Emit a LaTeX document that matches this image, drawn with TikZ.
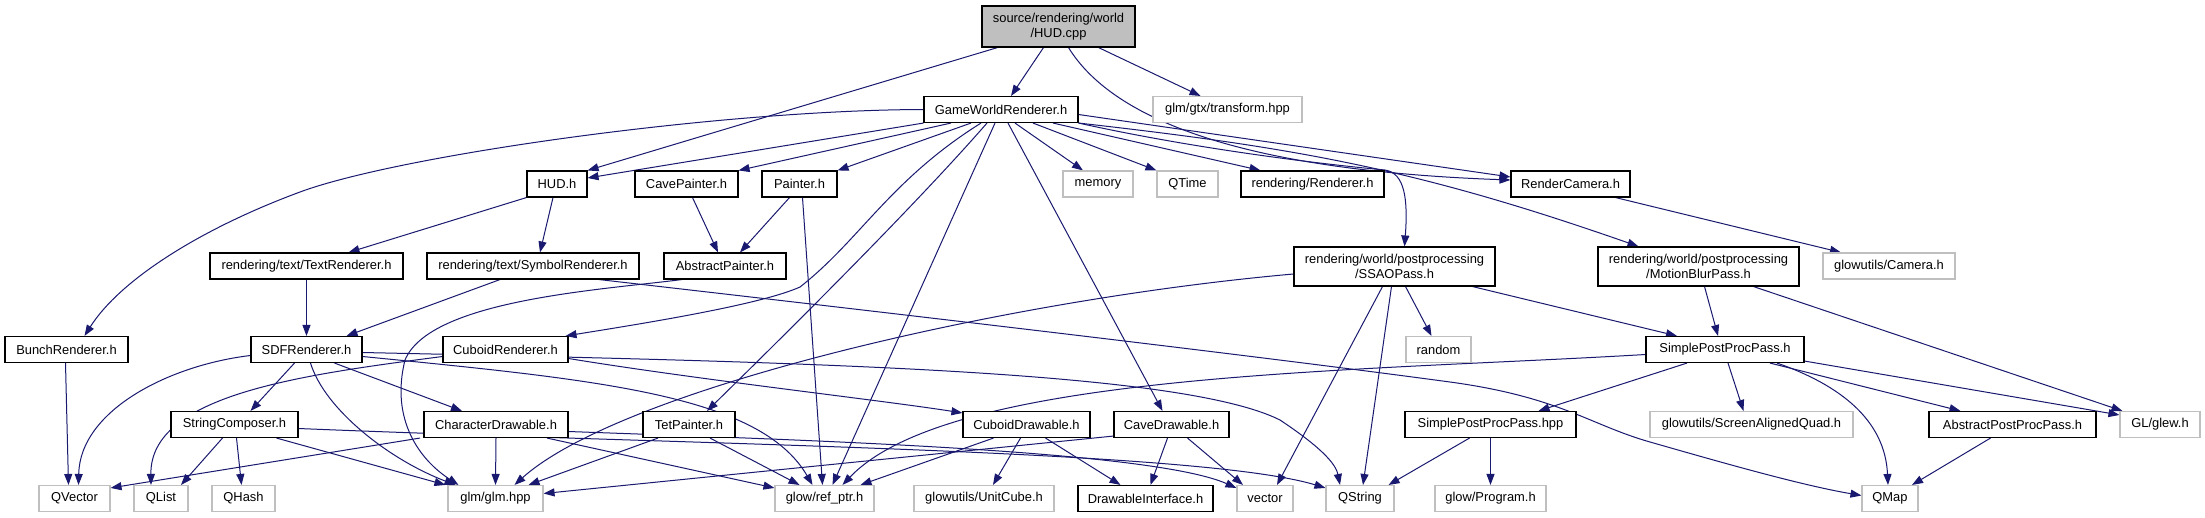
\documentclass[tikz,border=0pt]{standalone}
\usepackage{fontspec}
\setmainfont{Liberation Sans}
\usetikzlibrary{arrows.meta}
\definecolor{edgeblue}{HTML}{191970}
\definecolor{extgrey}{HTML}{BFBFBF}
\pgfdeclarelayer{edgelayer}
\pgfsetlayers{edgelayer,main}
\begin{document}
\begin{tikzpicture}[x=1pt,y=-1pt,
  box/.style={draw=black, line width=1.1pt, fill=white, inner sep=0pt,
    font=\fontsize{12.9}{14.5}\selectfont, minimum height=26pt, align=center},
  ext/.style={box, draw=extgrey},
  mainbox/.style={box, fill=extgrey, minimum height=41pt},
  twoline/.style={minimum height=39pt},
  edge/.style={draw=edgeblue, line width=1pt, -{Triangle[length=11pt,width=8pt]}}]
\begin{pgfonlayer}{edgelayer}
\fill[white] (0,0) rectangle (2205,517);
\end{pgfonlayer}
\useasboundingbox (0,0) rectangle (2205,517);
% row 0
\node[mainbox, minimum width=153pt] (hudcpp) at (1058.5,26.5) {source/rendering/world\\/HUD.cpp};
% row 1
\node[box, minimum width=154pt] (gwr) at (1001,109.5) {GameWorldRenderer.h};
\node[ext, minimum width=149pt] (transform) at (1227.5,109.5) {glm/gtx/transform.hpp};
% row 2
\node[box, minimum width=60pt] (hudh) at (557,184) {HUD.h};
\node[box, minimum width=103pt] (cavepainter) at (686.5,184) {CavePainter.h};
\node[box, minimum width=75pt] (painter) at (799.5,184) {Painter.h};
\node[ext, minimum width=70pt] (memory) at (1098,184) {memory};
\node[ext, minimum width=61pt] (qtime) at (1187.5,184) {QTime};
\node[box, minimum width=143pt] (renderer) at (1312.5,184) {rendering/Renderer.h};
\node[box, minimum width=119pt] (rendercamera) at (1570.5,184) {RenderCamera.h};
% row 3
\node[box, minimum width=193pt] (textrenderer) at (306.5,266) {rendering/text/TextRenderer.h};
\node[box, minimum width=212pt] (symbolrenderer) at (533,266) {rendering/text/SymbolRenderer.h};
\node[box, minimum width=122pt] (abstractpainter) at (725,266) {AbstractPainter.h};
\node[box, twoline, minimum width=201pt] (ssao) at (1394.5,266.5) {rendering/world/postprocessing\\/SSAOPass.h};
\node[box, twoline, minimum width=201pt] (motionblur) at (1698.5,266.5) {rendering/world/postprocessing\\/MotionBlurPass.h};
\node[ext, minimum width=132pt] (camera) at (1889,266) {glowutils/Camera.h};
% row 4
\node[box, minimum width=123pt] (bunch) at (66.5,349.5) {BunchRenderer.h};
\node[box, minimum width=111pt] (sdf) at (306.5,349.5) {SDFRenderer.h};
\node[box, minimum width=125pt] (cuboidrenderer) at (505.5,349.5) {CuboidRenderer.h};
\node[ext, minimum width=65pt] (random) at (1438.5,349.5) {random};
\node[box, minimum width=158pt] (spp) at (1725,349.5) {SimplePostProcPass.h};
% row 5
\node[box, minimum width=127pt] (stringcomposer) at (234.5,424.5) {StringComposer.h};
\node[box, minimum width=144pt] (chardrawable) at (496,424.5) {CharacterDrawable.h};
\node[box, minimum width=92pt] (tetpainter) at (689,424.5) {TetPainter.h};
\node[box, minimum width=127pt] (cuboiddrawable) at (1026.5,424.5) {CuboidDrawable.h};
\node[box, minimum width=115pt] (cavedrawable) at (1171.5,424.5) {CaveDrawable.h};
\node[box, minimum width=171pt] (spphpp) at (1490.5,424.5) {SimplePostProcPass.hpp};
\node[ext, minimum width=203pt] (saquad) at (1751.5,424.5) {glowutils/ScreenAlignedQuad.h};
\node[box, minimum width=167pt] (appass) at (2012.5,424.5) {AbstractPostProcPass.h};
\node[ext, minimum width=80pt] (glew) at (2160,424.5) {GL/glew.h};
% row 6
\node[ext, minimum width=71pt] (qvector) at (74.5,498.5) {QVector};
\node[ext, minimum width=54pt] (qlist) at (161,498.5) {QList};
\node[ext, minimum width=63pt] (qhash) at (243.5,498.5) {QHash};
\node[ext, minimum width=95pt] (glm) at (495.5,498.5) {glm/glm.hpp};
\node[ext, minimum width=99pt] (refptr) at (824.5,498.5) {glow/ref\_ptr.h};
\node[ext, minimum width=140pt] (unitcube) at (984,498.5) {glowutils/UnitCube.h};
\node[box, minimum width=135pt] (drawint) at (1145.5,498.5) {DrawableInterface.h};
\node[ext, minimum width=56pt] (vector) at (1265,498.5) {vector};
\node[ext, minimum width=68pt] (qstring) at (1360,498.5) {QString};
\node[ext, minimum width=111pt] (program) at (1490.5,498.5) {glow/Program.h};
\node[ext, minimum width=56pt] (qmap) at (1890,498.5) {QMap};

\begin{pgfonlayer}{edgelayer}
% ---- edges from HUD.cpp
\draw[edge] ([xshift=-61pt]hudcpp.south) -- (hudh.north east);
\draw[edge] ([xshift=-15pt]hudcpp.south) -- ([xshift=10pt]gwr.north);
\draw[edge] ([xshift=40pt]hudcpp.south) -- ([xshift=-27pt]transform.north);
\draw[edge] ([xshift=10pt]hudcpp.south) .. controls (1110,115) and (1230,170) .. ([yshift=4pt]rendercamera.west);
% ---- edges from GameWorldRenderer.h
\draw[edge] (gwr.south west) -- ([yshift=6pt]hudh.east);
\draw[edge] ([xshift=-50pt]gwr.south) -- (cavepainter.north east);
\draw[edge] ([xshift=-30pt]gwr.south) -- (painter.north east);
\draw[edge] ([xshift=-20pt]gwr.south) .. controls (890,180) and (860,240) .. (800,287)
  .. controls (760,305) and (640,324) .. ([xshift=-3pt]cuboidrenderer.north east);
\draw[edge] ([xshift=-14pt]gwr.south) .. controls (920,200) and (800,320) .. ([xshift=18pt]tetpainter.north);
\draw[edge] ([xshift=-6pt]gwr.south) -- ([xshift=8pt]refptr.north);
\draw[edge] ([xshift=7pt]gwr.south) -- ([xshift=-9pt]cavedrawable.north);
\draw[edge] ([xshift=14pt]gwr.south) -- ([xshift=-15pt]memory.north);
\draw[edge] ([xshift=32pt]gwr.south) -- (qtime.north west);
\draw[edge] ([xshift=52pt]gwr.south) -- ([xshift=-52pt]renderer.north);
\draw[edge] ([yshift=-5pt]gwr.east) -- ([yshift=7pt]rendercamera.west);
\draw[edge] (gwr.south east) .. controls (1200,150) and (1330,165) .. (1385,170)
  .. controls (1405,173) and (1408,200) .. ([xshift=10pt]ssao.north);
\draw[edge] (gwr.south east) .. controls (1300,148) and (1420,170) .. ([xshift=-60pt]motionblur.north);
\draw[edge] (gwr.west) .. controls (720,110) and (400,155) .. (300,192)
  .. controls (200,229) and (120,280) .. ([xshift=18pt]bunch.north);
% ---- HUD.h, painters
\draw[edge] (hudh.south west) -- ([xshift=42pt]textrenderer.north);
\draw[edge] ([xshift=-4pt]hudh.south) -- ([xshift=7pt]symbolrenderer.north);
\draw[edge] ([xshift=6pt]cavepainter.south) -- ([xshift=-7pt]abstractpainter.north);
\draw[edge] ([xshift=-10pt]painter.south) -- ([xshift=15pt]abstractpainter.north);
\draw[edge] ([xshift=3pt]painter.south) -- ([xshift=-2pt]refptr.north);
\draw[edge] ([xshift=-43pt]abstractpainter.south) .. controls (600,290) and (430,300) .. (405,360)
  .. controls (390,420) and (420,460) .. ([xshift=-37pt]glm.north);
% ---- text renderers
\draw[edge] (textrenderer.south) -- (sdf.north);
\draw[edge] ([xshift=-33pt]symbolrenderer.south) -- ([xshift=40pt]sdf.north);
\draw[edge] ([xshift=66pt]symbolrenderer.south) .. controls (900,314) and (1250,355) .. (1450,382)
  .. controls (1560,397) and (1590,425) .. (1650,442)
  .. controls (1720,462) and (1800,485) .. ([yshift=3pt]qmap.west);
% ---- SDFRenderer
\draw[edge] ([yshift=-6pt]sdf.west) .. controls (170,365) and (80,410) .. ([xshift=4pt]qvector.north);
\draw[edge] ([xshift=-12pt]sdf.south) -- ([xshift=16pt]stringcomposer.north);
\draw[edge] ([xshift=4pt]sdf.south) .. controls (325,410) and (390,460) .. ([xshift=-40pt]glm.north);
\draw[edge] ([xshift=28pt]sdf.south) -- ([xshift=-34pt]chardrawable.north);
\draw[edge] ([yshift=-3pt]sdf.east) .. controls (800,362) and (1180,370) .. (1280,420)
  .. controls (1310,440) and (1335,460) .. ([xshift=-20pt]qstring.north);
\draw[edge] ([yshift=-7pt]sdf.east) .. controls (600,380) and (760,395) .. ([xshift=-12pt]refptr.north);
\draw[edge] ([xshift=-1pt]bunch.south) -- ([xshift=-6pt]qvector.north);
% ---- CuboidRenderer
\draw[edge] ([yshift=-7pt]cuboidrenderer.west) .. controls (300,375) and (150,395) .. ([xshift=-10pt]qlist.north);
\draw[edge] ([yshift=-9pt]cuboidrenderer.east) .. controls (700,380) and (880,400) .. ([yshift=-2pt]cuboiddrawable.north west);
% ---- StringComposer
\draw[edge] ([xshift=-12pt]stringcomposer.south) -- ([xshift=20pt]qlist.north);
\draw[edge] ([xshift=2pt]stringcomposer.south) -- ([xshift=-2pt]qhash.north);
\draw[edge] ([xshift=42pt]stringcomposer.south) -- ([xshift=-2pt]glm.north west);
\draw[edge] ([yshift=-4pt]stringcomposer.east) .. controls (700,445) and (1200,450) .. ([yshift=-3pt]qstring.north west);
% ---- CharacterDrawable
\draw[edge] ([xshift=-76pt]chardrawable.south) -- ([yshift=-3pt]qvector.north east);
\draw[edge] (chardrawable.south) -- (glm.north);
\draw[edge] ([xshift=51pt]chardrawable.south) -- ([yshift=-3pt]refptr.north west);
\draw[edge] ([yshift=-7pt]chardrawable.east) .. controls (800,440) and (1150,450) .. ([yshift=-3pt]vector.north west);
% ---- TetPainter
\draw[edge] ([xshift=-31pt]tetpainter.south) -- ([xshift=33pt]glm.north);
\draw[edge] ([xshift=21pt]tetpainter.south) -- ([xshift=-25pt]refptr.north);
% ---- CuboidDrawable
\draw[edge] ([xshift=-33pt]cuboiddrawable.south) -- ([xshift=36pt]refptr.north);
\draw[edge] ([xshift=-6pt]cuboiddrawable.south) -- ([xshift=9pt]unitcube.north);
\draw[edge] ([xshift=19pt]cuboiddrawable.south) -- ([xshift=-25pt]drawint.north);
% ---- CaveDrawable
\draw[edge] ([yshift=2pt]cavedrawable.south west) -- ([yshift=5pt]glm.east);
\draw[edge] ([xshift=-4pt]cavedrawable.south) -- ([xshift=5pt]drawint.north);
\draw[edge] ([xshift=16pt]cavedrawable.south) -- ([xshift=-22pt]vector.north);
% ---- SSAOPass
\draw[edge] ([yshift=-7.5pt]ssao.west) .. controls (1000,300) and (620,390) .. ([xshift=19pt]glm.north);
\draw[edge] ([xshift=-12pt]ssao.south) -- ([xshift=12pt]vector.north);
\draw[edge] ([xshift=-3pt]ssao.south) -- ([xshift=3pt]qstring.north);
\draw[edge] ([xshift=11pt]ssao.south) -- ([xshift=-7pt]random.north);
\draw[edge] ([xshift=78pt]ssao.south) -- ([xshift=-48pt]spp.north);
% ---- MotionBlurPass, RenderCamera
\draw[edge] ([xshift=6pt]motionblur.south) -- ([xshift=-7pt]spp.north);
\draw[edge] ([xshift=55pt]motionblur.south) -- ([xshift=3pt]glew.north west);
\draw[edge] ([xshift=45pt]rendercamera.south) -- ([xshift=-48pt]camera.north);
% ---- SimplePostProcPass.h
\draw[edge] ([yshift=-5pt]spp.west) .. controls (1350,372) and (950,372) .. ([xshift=18pt]refptr.north);
\draw[edge] ([xshift=-38pt]spp.south) -- ([xshift=48pt]spphpp.north);
\draw[edge] ([xshift=3pt]spp.south) -- ([xshift=-8pt]saquad.north);
\draw[edge] ([xshift=52pt]spp.south) .. controls (1840,385) and (1885,420) .. ([xshift=-2pt]qmap.north);
\draw[edge] ([xshift=45pt]spp.south) -- ([xshift=-52pt]appass.north);
\draw[edge] ([yshift=2pt]spp.south east) -- ([yshift=-4pt]glew.north west);
% ---- SimplePostProcPass.hpp, AbstractPostProcPass.h
\draw[edge] ([xshift=-21pt]spphpp.south) -- ([xshift=-6pt]qstring.north east);
\draw[edge] (spphpp.south) -- (program.north);
\draw[edge] ([xshift=-22pt]appass.south) -- ([xshift=22pt]qmap.north);
\end{pgfonlayer}
\end{tikzpicture}
\end{document}
